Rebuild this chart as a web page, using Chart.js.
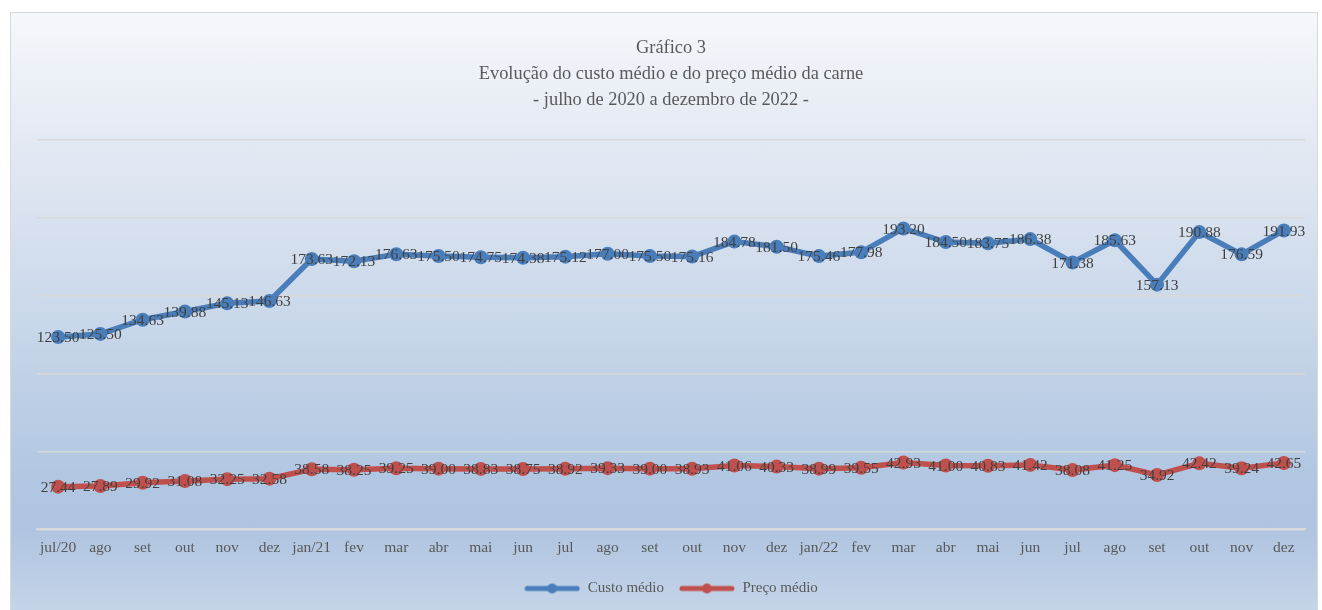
<!DOCTYPE html>
<html>
<head>
<meta charset="utf-8">
<script src="https://cdn.jsdelivr.net/npm/chart.js@4/dist/chart.umd.min.js"></script>
<style>
  body { margin: 0; background: #fff; }
  #box {
    position: absolute; left: 10px; top: 12px; width: 1306px; height: 600px;
    border: 1px solid #d9d9d9;
    background: linear-gradient(to bottom, #f5f8fb 0%, #e3e9f3 22%, #cad8ea 50%, #b0c6e1 78%, #afc4e0 86%, #c5d5e9 100%);
  }
  #wrap { position: relative; width: 1306px; height: 600px; }
</style>
</head>
<body>
<div id="box"><div id="wrap"><canvas id="myChart"></canvas></div></div>
<script>
var labels = ["jul/20", "ago", "set", "out", "nov", "dez", "jan/21", "fev", "mar", "abr", "mai", "jun",
    "jul", "ago", "set", "out", "nov", "dez", "jan/22", "fev", "mar", "abr", "mai", "jun",
    "jul", "ago", "set", "out", "nov", "dez"];
var custoMedio = [123.50, 125.50, 134.63, 139.88, 145.13, 146.63, 173.63, 172.13, 176.63, 175.50, 174.75, 174.38,
    175.12, 177.00, 175.50, 175.16, 184.78, 181.50, 175.46, 177.98, 193.20, 184.50, 183.75, 186.38,
    171.38, 185.63, 157.13, 190.88, 176.59, 191.93];
var precoMedio = [27.44, 27.89, 29.92, 31.08, 32.25, 32.58, 38.58, 38.25, 39.25, 39.00, 38.83, 38.75,
    38.92, 39.33, 39.00, 38.93, 41.06, 40.33, 38.99, 39.55, 42.93, 41.00, 40.83, 41.42,
    38.08, 41.25, 34.92, 42.42, 39.24, 42.65];
var titulo = ["Gráfico 3", "Evolução do custo médio e do preço médio da carne", "- julho de 2020 a dezembro de 2022 -"];

var serif = "'Liberation Serif', 'Times New Roman', serif";

// ícone da legenda: linha com marcador
function legendIcon(color) {
    var c = document.createElement('canvas');
    c.width = 56;
    c.height = 12;
    var g = c.getContext('2d');
    g.strokeStyle = color;
    g.lineWidth = 5;
    g.lineCap = 'round';
    g.beginPath();
    g.moveTo(3, 6);
    g.lineTo(53, 6);
    g.stroke();
    g.fillStyle = color;
    g.beginPath();
    g.arc(28, 6, 5, 0, Math.PI * 2);
    g.fill();
    return c;
}

// rótulos de dados no centro de cada ponto
const valueLabels = {
    id: 'valueLabels',
    afterDatasetsDraw(chart) {
        const ctx = chart.ctx;
        ctx.save();
        ctx.font = "15.5px " + serif;
        ctx.fillStyle = "#404040";
        ctx.textAlign = "center";
        ctx.textBaseline = "middle";
        chart.data.datasets.forEach((ds, i) => {
            chart.getDatasetMeta(i).data.forEach((pt, j) => {
                ctx.fillText(ds.data[j].toFixed(2), pt.x, pt.y + 1);
            });
        });
        ctx.restore();
    }
};

var ctx = document.getElementById("myChart").getContext("2d");
var myChart = new Chart(ctx, {
    type: 'line',
    data: {
        labels: labels,
        datasets: [
            {
                label: "Custo médio",
                data: custoMedio,
                borderColor: "#4a7ebb",
                backgroundColor: "#4a7ebb",
                borderWidth: 5.5,
                pointRadius: 7,
                pointBorderWidth: 0,
            },
            {
                label: "Preço médio",
                data: precoMedio,
                borderColor: "#c0504d",
                backgroundColor: "#c0504d",
                borderWidth: 5.5,
                pointRadius: 7,
                pointBorderWidth: 0,
            },
        ],
    },
    options: {
        responsive: true,
        maintainAspectRatio: false,
        animation: false,
        layout: { padding: { left: 26, right: 12, top: 0, bottom: 7 } },
        scales: {
            x: {
                offset: true,
                grid: { display: false, drawTicks: false },
                border: { color: "#d9d9d9", width: 2 },
                ticks: { color: "#595959", font: { family: serif, size: 15.5 }, padding: 9, maxRotation: 0, autoSkip: false },
            },
            y: {
                min: 0,
                max: 250,
                ticks: { display: false, stepSize: 50 },
                grid: { color: "#d9d9d9", lineWidth: 1.5, drawTicks: false },
                border: { display: false },
            },
        },
        plugins: {
            title: {
                display: true,
                text: titulo,
                color: "#595959",
                font: { family: serif, size: 18.4, weight: 'normal', lineHeight: 26 / 18.4 },
                padding: { top: 22, bottom: 27 },
            },
            legend: {
                position: 'bottom',
                labels: {
                    color: "#595959",
                    font: { family: serif, size: 15 },
                    usePointStyle: true,
                    pointStyleWidth: 56,
                    boxHeight: 12,
                    padding: 15,
                    generateLabels: function (chart) {
                        var items = Chart.defaults.plugins.legend.labels.generateLabels(chart);
                        items.forEach(function (it) {
                            it.pointStyle = legendIcon(chart.data.datasets[it.datasetIndex].borderColor);
                        });
                        return items;
                    },
                },
            },
            tooltip: { enabled: false },
        },
    },
    plugins: [valueLabels],
});
</script>
</body>
</html>
